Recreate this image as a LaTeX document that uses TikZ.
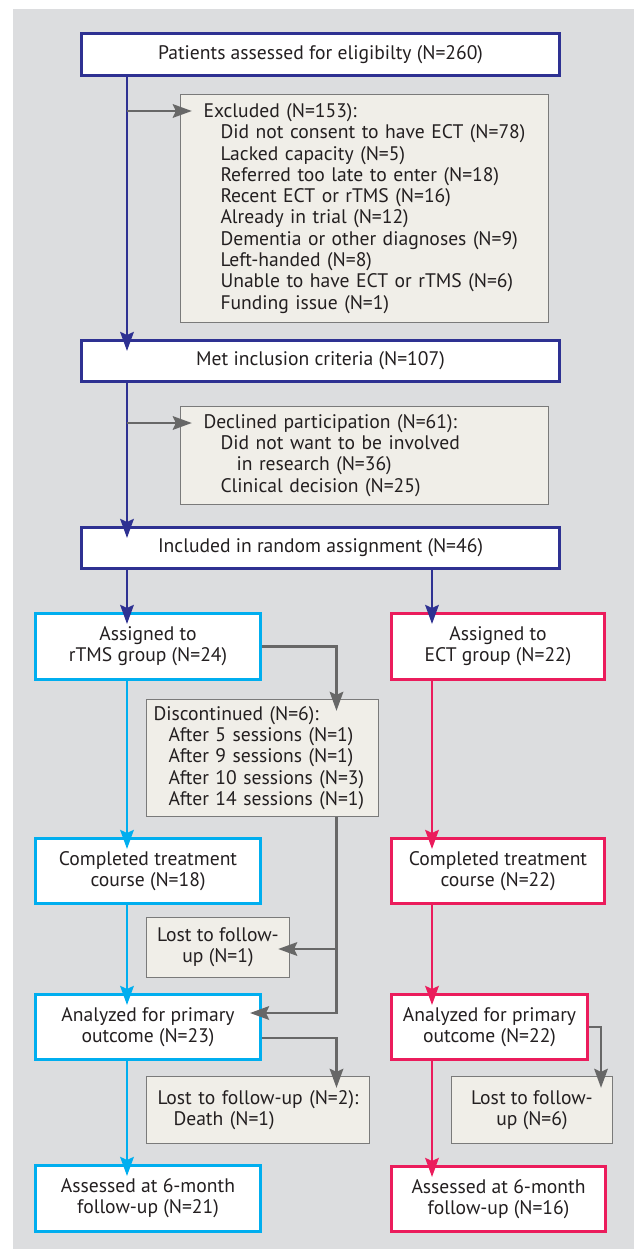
\documentclass[tikz,border=0pt]{standalone}
\usepackage{fontspec}
\setmainfont{PT Sans}
\usetikzlibrary{arrows.meta,calc}
\definecolor{bg}{HTML}{DCDDDF}
\definecolor{navy}{HTML}{2E3192}
\definecolor{cyanb}{HTML}{00AEEF}
\definecolor{crim}{HTML}{EB1C5C}
\definecolor{gline}{HTML}{676767}
\definecolor{gfill}{HTML}{F0EEE8}
\definecolor{gbord}{HTML}{7A7A7A}
\definecolor{txt}{HTML}{231F20}
\begin{document}
\begin{tikzpicture}[x=1pt,y=-1pt,
  every node/.style={font=\fontsize{19.6}{21.3}\selectfont, text=txt},
  wbox/.style={draw, fill=white, line width=3pt, align=center, inner sep=0pt},
  nbox/.style={wbox, draw=navy},
  cbox/.style={wbox, draw=cyanb},
  rbox/.style={wbox, draw=crim},
  gbox/.style={draw=gbord, fill=gfill, line width=1.3pt, inner sep=0pt, align=left},
  gboxc/.style={draw=gbord, fill=gfill, line width=1.3pt, inner sep=0pt, align=center},
  arr/.style={-{Stealth[length=19pt,width=13.5pt,inset=3pt]}, shorten >=-12pt},
  nv/.style={draw=navy, line width=2.8pt},
  cy/.style={draw=cyanb, line width=2.8pt},
  cr/.style={draw=crim, line width=2.8pt},
  gl/.style={draw=gline, line width=2.8pt},
]
\useasboundingbox (0,0) rectangle (634,1249);
\fill[white] (0,0) rectangle (634,1249);
\fill[bg] (13,9) rectangle (634,1249);

% nodes
\node[nbox, minimum width=478pt, minimum height=42pt] (top) at (320.5,54.5) {Patients assessed for eligibilty (N=260)};
\node[gbox, text width=368pt, minimum height=228pt] (excl) at (364.5,208.5)
 {\hspace*{23pt}Excluded (N=153):\\
  \hspace*{40pt}Did not consent to have ECT (N=78)\\
  \hspace*{40pt}Lacked capacity (N=5)\\
  \hspace*{40pt}Referred too late to enter (N=18)\\
  \hspace*{40pt}Recent ECT or rTMS (N=16)\\
  \hspace*{40pt}Already in trial (N=12)\\
  \hspace*{40pt}Dementia or other diagnoses (N=9)\\
  \hspace*{40pt}Left-handed (N=8)\\
  \hspace*{40pt}Unable to have ECT or rTMS (N=6)\\
  \hspace*{40pt}Funding issue (N=1)};
\node[nbox, minimum width=478pt, minimum height=41pt] (met) at (320.5,361) {Met inclusion criteria (N=107)};
\node[gbox, text width=368pt, minimum height=98pt] (decl) at (364.5,455.5)
 {\hspace*{23pt}Declined participation (N=61):\\
  \hspace*{40pt}Did not want to be involved\\
  \hspace*{56pt}in research (N=36)\\
  \hspace*{40pt}Clinical decision (N=25)};
\node[nbox, minimum width=478pt, minimum height=41pt] (incl) at (320.5,548) {Included in random assignment (N=46)};

\node[cbox, minimum width=225pt, minimum height=66pt] (rtms) at (148,646.5) {Assigned to\\rTMS group (N=24)};
\node[rbox, minimum width=213pt, minimum height=66pt] (ect) at (498,646.5) {Assigned to\\ECT group (N=22)};
\node[gbox, text width=232pt, minimum height=117pt] (disc) at (262.5,758)
 {\hspace*{7pt}Discontinued (N=6):\\
  \hspace*{22pt}After 5 sessions (N=1)\\
  \hspace*{22pt}After 9 sessions (N=1)\\
  \hspace*{22pt}After 10 sessions (N=3)\\
  \hspace*{22pt}After 14 sessions (N=1)};
\node[cbox, minimum width=225pt, minimum height=65pt] (compr) at (148,871) {Completed treatment\\course (N=18)};
\node[rbox, minimum width=213pt, minimum height=65pt] (compe) at (498,871) {Completed treatment\\course (N=22)};
\node[gboxc, minimum width=143pt, minimum height=60pt] (lostA) at (218,947.5) {Lost to follow-\\up (N=1)};
\node[cbox, minimum width=225pt, minimum height=65pt] (anar) at (148,1027) {Analyzed for primary\\outcome (N=23)};
\node[rbox, minimum width=196pt, minimum height=65pt] (anae) at (489.5,1027) {Analyzed for primary\\outcome (N=22)};
\node[gbox, text width=223pt, minimum height=67pt] (lostB) at (258,1110)
 {\hspace*{11pt}Lost to follow-up (N=2):\\
  \hspace*{27pt}Death (N=1)};
\node[gboxc, minimum width=161pt, minimum height=67pt] (lostC) at (532,1110) {Lost to follow-\\up (N=6)};
\node[cbox, minimum width=225pt, minimum height=66pt] (assr) at (148,1198.5) {Assessed at 6-month\\follow-up (N=21)};
\node[rbox, minimum width=214pt, minimum height=65pt] (asse) at (498.5,1199) {Assessed at 6-month\\follow-up (N=16)};

% guide coordinates
\coordinate (lx) at (127,0);
\coordinate (rx) at (432,0);
\coordinate (gx) at (336.5,0);
\coordinate (gx2) at (601,0);
\coordinate (e1) at (127,111);
\coordinate (d1) at (127,423);
\coordinate (j1) at (336.5,949);
\coordinate (j2) at (336.5,1013);
\coordinate (k1) at (0,1038);

% connectors
\draw[nv, arr] (top.south -| lx) -- (met.north -| lx);
\draw[gl, arr] (e1) -- (e1 -| excl.west);
\draw[nv, arr] (met.south -| lx) -- (incl.north -| lx);
\draw[gl, arr] (d1) -- (d1 -| decl.west);
\draw[nv, arr] (incl.south -| lx) -- (rtms.north -| lx);
\draw[nv, arr] (incl.south -| rx) -- (ect.north -| rx);

\draw[cy, arr] (rtms.south -| lx) -- (compr.north -| lx);
\draw[cy, arr] (compr.south -| lx) -- (anar.north -| lx);
\draw[cy, arr] (anar.south -| lx) -- (assr.north -| lx);

\draw[cr, arr] (ect.south -| rx) -- (compe.north -| rx);
\draw[cr, arr] (compe.south -| rx) -- (anae.north -| rx);
\draw[cr, arr] (anae.south -| rx) -- (asse.north -| rx);

\draw[gl, arr] (rtms.east) -- (rtms.east -| gx) -- (disc.north -| gx);
\draw[gl, arr] (disc.south -| gx) -- (j2) -- (j2 -| anar.east);
\draw[gl, arr] (j1) -- (j1 -| lostA.east);
\draw[gl, arr] (anar.east |- k1) -- (k1 -| gx) -- (lostB.north -| gx);
\draw[gl, arr] (anae.east) -- (anae.east -| gx2) -- (lostC.north -| gx2);
\end{tikzpicture}
\end{document}
